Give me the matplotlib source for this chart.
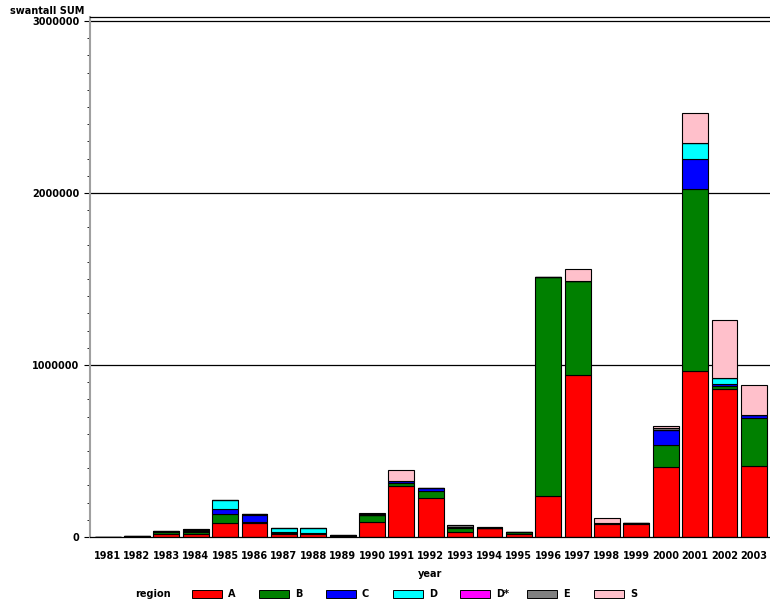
import matplotlib.pyplot as plt
import numpy as np

years = [str(y) for y in range(1981, 2004)]
regions = ['A', 'B', 'C', 'D', 'D*', 'E', 'S']
colors = ['#ff0000', '#008000', '#0000ff', '#00ffff', '#ff00ff', '#808080', '#ffc0cb']

A  = [0, 2000, 15000, 15000, 80000, 80000, 16000, 17000, 3000, 89000, 297000, 229000, 30000, 50000, 20000,
      240000, 942000, 75000, 75000, 407000, 965000, 860000, 413000]
B  = [0, 1000, 15000, 15000, 52000, 9000, 8000, 5000, 0, 39000, 15000, 41000, 25000, 0, 10000,
      1272000, 546000, 9000, 8000, 128000, 1058000, 18000, 279000]
C  = [0, 0, 0, 5000, 29000, 39000, 4000, 3000, 0, 0, 14000, 13000, 5000, 0, 0,
      0, 0, 0, 0, 87000, 175000, 12000, 17000]
D  = [0, 0, 5000, 8000, 54000, 4000, 26000, 25000, 10000, 0, 0, 4000, 0, 0, 0,
      0, 0, 0, 0, 0, 93000, 35000, 0]
Ds = [0] * 23
E  = [0, 0, 0, 2000, 0, 0, 0, 0, 0, 5000, 0, 0, 10000, 10000, 0,
      0, 0, 0, 0, 13000, 0, 0, 0]
S  = [0, 0, 0, 0, 0, 0, 0, 0, 0, 5000, 64000, 0, 0, 0, 0,
      0, 70000, 26000, 0, 10000, 174000, 337000, 175000]
series = [A, B, C, D, Ds, E, S]

plt.rcParams['font.family'] = ['DejaVu Sans']
plt.rcParams['font.size'] = 7
plt.rcParams['font.weight'] = 'bold'

fig = plt.figure(figsize=(7.7, 6.03), dpi=100)
ax = fig.add_axes([90 / 770, (603 - 537) / 603, 680 / 770, 520 / 603])

x = np.arange(len(years))
bottom = np.zeros(len(years))
for vals, c in zip(series, colors):
    vals = np.array(vals, dtype=float)
    ax.bar(x, vals, 0.88, bottom=bottom, color=c, edgecolor='black', linewidth=0.8)
    bottom += vals

for g in [1e6, 2e6, 3e6]:
    ax.axhline(g, color='black', linewidth=0.9, zorder=0)

ax.set_xlim(-0.6, len(years) - 0.45)
ax.set_ylim(0, 3.023e6)
ax.set_yticks([0, 1e6, 2e6, 3e6])
ax.set_yticklabels(['0', '1000000', '2000000', '3000000'])
ax.set_yticks(np.arange(0, 3.0e6, 1e5), minor=True)
ax.set_xticks(x)
ax.set_xticklabels(years)
ax.tick_params(axis='x', length=0, pad=10)
ax.tick_params(axis='y', which='major', length=4, color='black')
ax.tick_params(axis='y', which='minor', length=2, color='black')
ax.spines['right'].set_visible(False)
ax.spines['left'].set_color('#a0a0a0')
ax.spines['left'].set_linewidth(1.5)
ax.spines['top'].set_linewidth(0.9)
ax.spines['bottom'].set_linewidth(0.9)

fig.text(10 / 770, 1 - 14 / 603, 'swantall SUM', fontsize=7, fontweight='bold')
fig.text(430 / 770, 1 - 574 / 603, 'year', ha='center', va='center', fontsize=7, fontweight='bold')

fig.text(135 / 770, 1 - 594 / 603, 'region', va='center', fontsize=7, fontweight='bold')
for i, (r, c) in enumerate(zip(regions, colors)):
    x0 = 192 + i * 67
    fig.patches.append(plt.Rectangle((x0 / 770, 1 - 598 / 603), 30 / 770, 8 / 603,
                                     transform=fig.transFigure, facecolor=c,
                                     edgecolor='black', linewidth=0.7))
    fig.text((x0 + 36) / 770, 1 - 594 / 603, r, va='center', fontsize=7, fontweight='bold')

fig.savefig('out.png', dpi=100)
